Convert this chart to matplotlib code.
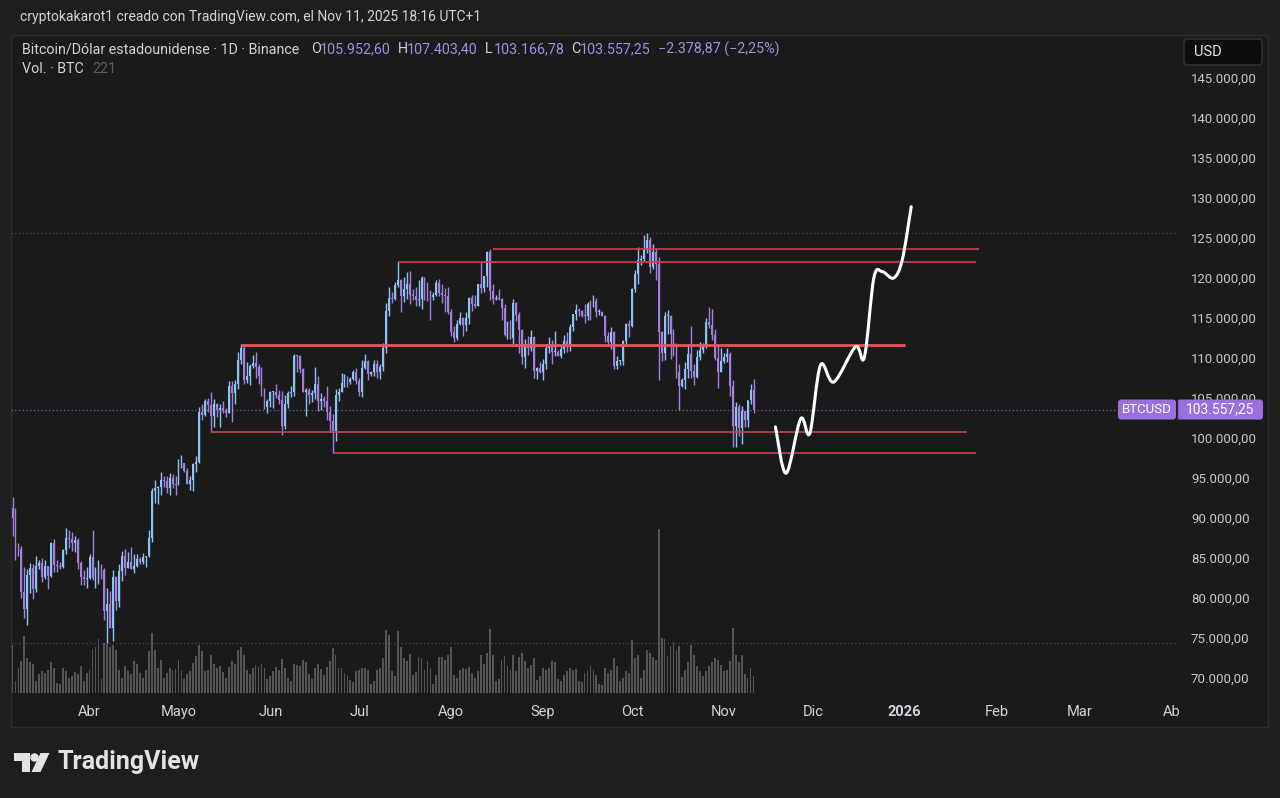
import datetime as dt
import numpy as np
import matplotlib
matplotlib.use("Agg")
import matplotlib.pyplot as plt
import matplotlib.dates as mdates
from matplotlib.patches import Rectangle, FancyBboxPatch, Circle, Polygon, PathPatch
from matplotlib.path import Path

# ---------------- data (BTC/USD daily, thousands of USD) ----------------
start_date = dt.date(2025, 3, 6)
first_open = 91.2

close_mar = [89.96, 86.74, 86.15, 80.73, 78.60, 82.86, 83.72, 81.07, 83.97, 84.34, 82.58, 84.01, 82.72,
             86.85, 84.17, 84.04, 83.83, 86.05, 87.50, 87.42, 86.90, 87.20, 84.35, 82.60, 82.39, 82.55]
high_mar = [92.60, 91.30, 86.90, 86.50, 83.90, 83.60, 84.40, 84.30, 85.30, 84.70, 85.00, 84.80, 84.00,
            87.00, 87.40, 84.80, 84.50, 86.10, 88.80, 88.50, 88.30, 87.80, 87.50, 84.60, 83.50, 83.90]
low_mar = [87.80, 84.70, 85.20, 80.00, 77.50, 76.60, 80.60, 79.90, 80.80, 83.60, 82.00, 82.40, 81.10,
           82.60, 83.20, 83.20, 83.60, 83.80, 85.50, 86.30, 85.90, 85.80, 83.60, 81.60, 81.60, 81.30]

close_apr = [85.16, 82.50, 83.10, 83.84, 83.50, 78.40, 79.20, 76.30, 82.60, 79.60, 83.40, 85.30, 83.70, 84.50, 83.60,
             84.00, 84.90, 84.50, 85.10, 85.20, 87.50, 93.40, 93.70, 93.90, 94.70, 94.60, 93.75, 94.98, 94.28, 94.17]
high_apr = [85.50, 88.50, 83.90, 84.70, 84.20, 83.80, 81.20, 80.90, 83.50, 82.70, 84.30, 85.90, 86.10, 85.80, 86.40,
            85.50, 85.50, 85.10, 85.60, 85.30, 88.50, 93.80, 94.70, 94.00, 95.80, 95.30, 95.30, 95.60, 95.50, 95.20]
low_apr = [82.40, 82.30, 81.20, 81.70, 82.40, 77.20, 74.40, 76.20, 74.60, 78.50, 78.90, 82.10, 82.90, 83.70, 83.60,
           83.10, 83.90, 84.20, 84.30, 83.90, 85.10, 87.00, 91.90, 91.70, 92.90, 93.90, 93.10, 92.90, 93.80, 92.90]

close_may = [96.50, 96.90, 95.90, 94.30, 94.70, 96.80, 97.00, 103.20, 102.90, 104.60, 104.10, 102.80, 104.20, 103.50,
             103.70, 103.50, 103.10, 106.50, 105.60, 106.80, 109.70, 111.20, 107.30, 107.80, 109.00, 109.40, 108.90,
             107.80, 105.60, 103.90, 104.60]
high_may = [97.40, 97.90, 96.90, 96.30, 95.20, 96.90, 97.70, 103.90, 104.30, 104.90, 105.00, 105.80, 104.90, 104.40,
            104.20, 104.60, 103.70, 107.10, 107.10, 107.30, 110.80, 111.70, 111.60, 109.50, 109.30, 110.40, 110.70,
            109.30, 108.90, 106.30, 104.90]
low_may = [94.10, 96.30, 95.70, 94.20, 93.50, 93.40, 95.80, 96.90, 102.30, 102.80, 103.30, 100.75, 101.40, 102.60,
           101.40, 103.10, 102.60, 103.10, 102.00, 104.20, 106.10, 109.30, 106.80, 106.90, 106.60, 108.70, 107.50,
           106.80, 105.30, 103.60, 103.10]

close_jun = [105.70, 105.80, 105.40, 104.70, 101.50, 104.30, 105.60, 105.70, 110.30, 110.20, 108.60, 105.70, 106.00,
             105.40, 105.60, 106.80, 104.60, 104.90, 104.60, 103.30, 102.10, 100.90, 105.40, 105.80, 106.90, 107.30,
             107.00, 107.40, 108.30, 107.10]
high_jun = [105.90, 105.90, 106.80, 106.00, 105.90, 105.40, 105.90, 106.50, 110.50, 110.40, 110.40, 108.80, 106.20,
            106.20, 106.00, 108.90, 107.80, 105.60, 105.30, 106.50, 104.00, 103.00, 106.10, 106.30, 108.10, 108.00,
            107.80, 107.60, 108.50, 108.80]
low_jun = [103.90, 103.70, 105.00, 104.20, 100.40, 101.10, 103.80, 105.10, 105.30, 108.30, 108.10, 105.70, 102.70,
           104.30, 104.50, 104.90, 103.40, 103.50, 103.90, 102.30, 100.80, 98.10, 99.60, 104.60, 105.70, 106.40,
           106.40, 106.80, 107.20, 106.80]

close_jul = [105.70, 108.80, 109.60, 108.00, 108.20, 109.20, 108.30, 108.90, 111.30, 115.90, 117.50, 117.40, 119.10,
             119.80, 117.70, 118.60, 119.20, 117.90, 117.80, 117.30, 117.40, 120.00, 118.80, 118.40, 117.60, 117.90,
             119.40, 118.10, 117.90, 117.80, 115.80]
high_jul = [107.50, 109.80, 110.50, 109.80, 108.40, 109.70, 109.70, 109.20, 111.90, 116.90, 118.90, 118.20, 119.50,
            122.00, 119.90, 120.10, 120.80, 120.90, 118.60, 118.90, 119.70, 120.20, 120.10, 119.50, 118.50, 118.30,
            119.80, 119.90, 119.30, 118.80, 118.90]
low_jul = [105.30, 105.10, 108.60, 107.30, 107.80, 107.80, 107.50, 107.40, 108.40, 110.60, 115.20, 116.90, 117.30,
           118.90, 115.70, 117.00, 117.40, 116.80, 117.30, 116.50, 116.50, 116.10, 117.30, 117.10, 114.70, 117.20,
           117.80, 117.80, 116.90, 115.80, 115.50]

close_aug = [113.30, 112.50, 114.20, 115.00, 114.10, 115.00, 117.50, 116.70, 116.50, 119.30, 118.70, 120.20, 123.30,
             118.40, 117.40, 117.50, 117.40, 116.20, 112.90, 114.30, 112.50, 116.90, 115.40, 113.50, 110.10, 111.80,
             111.30, 112.60, 108.40, 108.80, 108.20]
high_aug = [116.10, 114.00, 114.80, 115.70, 115.10, 115.70, 117.60, 117.90, 117.90, 119.30, 122.00, 120.30, 123.40,
            123.60, 119.20, 117.90, 118.60, 117.50, 116.80, 114.60, 114.80, 117.40, 117.00, 115.70, 113.60, 112.40,
            112.70, 113.50, 112.70, 108.90, 109.50]
low_aug = [112.70, 112.00, 112.20, 114.10, 112.70, 113.40, 114.30, 115.90, 116.30, 116.50, 118.10, 118.20, 118.90,
           117.20, 116.80, 117.20, 117.20, 114.70, 112.70, 112.40, 112.40, 111.70, 114.60, 110.60, 109.30, 108.70,
           110.40, 110.90, 107.50, 107.40, 108.10]

close_sep = [109.20, 111.20, 111.70, 110.70, 110.70, 110.20, 111.10, 112.10, 111.50, 113.90, 115.50, 116.00, 115.90,
             115.30, 115.20, 116.80, 116.50, 117.10, 115.70, 115.70, 115.20, 112.70, 112.00, 113.30, 109.00, 109.60,
             109.60, 112.10, 114.30, 114.00]
high_sep = [109.90, 111.80, 112.60, 112.20, 113.40, 111.00, 111.60, 112.90, 113.20, 114.30, 115.50, 116.70, 116.30,
            116.00, 116.80, 117.00, 117.30, 117.90, 117.50, 116.10, 115.90, 115.40, 113.30, 113.90, 113.40, 110.30,
            109.80, 112.30, 114.40, 114.80]
low_sep = [107.30, 108.60, 110.60, 109.30, 110.20, 110.20, 110.00, 110.60, 110.80, 110.90, 113.40, 114.80, 115.20,
           115.10, 114.40, 114.70, 114.70, 116.40, 115.10, 115.40, 115.20, 112.00, 111.50, 111.10, 108.60, 108.60,
           109.10, 109.10, 111.60, 112.60]

close_oct = [118.60, 120.50, 122.20, 122.40, 123.50, 124.70, 121.40, 123.30, 121.70, 113.20, 110.60, 115.20, 115.30,
             113.00, 110.70, 108.20, 106.50, 107.20, 108.60, 110.50, 108.40, 107.60, 110.10, 111.00, 111.60, 114.50,
             114.10, 112.90, 110.00, 108.30, 109.60]
high_oct = [118.70, 121.00, 123.90, 122.90, 125.40, 125.60, 125.10, 124.20, 123.80, 122.60, 113.40, 115.80, 116.00,
            115.40, 113.60, 111.90, 109.20, 107.50, 109.50, 111.70, 114.00, 109.20, 111.00, 112.00, 111.90, 115.00,
            116.40, 116.10, 113.60, 111.60, 111.20]
low_oct = [113.90, 118.30, 119.30, 121.60, 122.10, 123.10, 120.60, 121.10, 119.70, 107.20, 109.60, 109.70, 113.00,
           109.90, 110.20, 107.50, 103.50, 106.40, 106.10, 107.50, 107.50, 106.60, 107.50, 109.70, 110.60, 111.30,
           113.80, 112.20, 109.70, 106.30, 108.20]

close_nov = [110.10, 110.50, 106.50, 101.50, 103.90, 101.30, 103.40, 102.30, 104.70, 105.9526, 103.55725]
high_nov = [110.60, 111.30, 110.80, 107.30, 104.50, 104.20, 104.00, 103.40, 104.80, 106.70, 107.4034]
low_nov = [109.40, 109.50, 105.30, 98.90, 98.90, 100.30, 99.30, 101.40, 101.40, 104.30, 103.16678]

# volume (BTC)
vol_mar = [630, 150, 330, 420, 740, 460, 400, 380, 150, 250, 280, 260, 300, 400, 320, 130, 120, 330, 290, 190,
           220, 270, 250, 350, 160, 260]
vol_apr = [300, 570, 600, 700, 180, 650, 640, 600, 620, 560, 300, 200, 350, 290, 250, 410, 380, 260, 200, 300,
           540, 780, 560, 330, 430, 200, 260, 330, 300, 310]
vol_may = [430, 290, 180, 250, 290, 390, 480, 620, 550, 280, 300, 500, 380, 320, 350, 270, 200, 340, 420, 380,
           560, 600, 500, 300, 250, 330, 360, 340, 380, 330, 180]
vol_jun = [220, 280, 340, 300, 440, 330, 200, 150, 380, 370, 350, 430, 400, 250, 180, 330, 380, 310, 240, 340,
           420, 580, 500, 330, 320, 260, 240, 170, 140, 280]
vol_jul = [300, 330, 330, 300, 120, 150, 300, 330, 460, 820, 760, 280, 220, 800, 600, 460, 420, 510, 230, 270,
           470, 450, 300, 420, 330, 120, 230, 470, 470, 430, 500]
vol_aug = [600, 240, 200, 300, 320, 310, 340, 260, 200, 290, 500, 380, 520, 830, 490, 150, 180, 430, 480, 350,
           300, 500, 280, 470, 520, 420, 330, 360, 460, 170, 220]
vol_sep = [320, 300, 330, 410, 400, 180, 150, 240, 290, 320, 300, 310, 150, 140, 260, 280, 350, 300, 240, 120,
           110, 330, 260, 300, 460, 350, 160, 200, 290, 260]
vol_oct = [690, 450, 500, 190, 300, 560, 520, 470, 430, 2130, 720, 700, 480, 610, 660, 560, 610, 210, 300, 400,
           620, 500, 350, 280, 220, 290, 350, 400, 460, 430, 360]
vol_nov = [280, 300, 420, 850, 500, 400, 490, 250, 200, 320, 221]

# drawn annotations: horizontal levels (thousands USD) with start/end day offsets from start_date
level_prices = [111.6, 122.0, 123.6, 100.75, 98.1]
level_start = [77, 130, 162, 67, 108]
level_end = [301, 325, 326, 322, 325]
level_width = [2.0, 1.2, 1.2, 1.2, 1.2]

# hand-drawn projection path (day offset, thousands USD)
path_days = [257.4, 261.0, 265.9, 269.0, 272.6, 277.1, 284.4, 287.4, 290.6, 293.4, 297.3, 300.2, 303.2]
path_prices = [101.4, 95.6, 102.4, 100.6, 109.1, 107.0, 111.4, 110.1, 120.0, 120.8, 120.0, 122.3, 128.9]

month_ticks = [dt.date(2025, 4, 1), dt.date(2025, 5, 1), dt.date(2025, 6, 1), dt.date(2025, 7, 1),
               dt.date(2025, 8, 1), dt.date(2025, 9, 1), dt.date(2025, 10, 1), dt.date(2025, 11, 1),
               dt.date(2025, 12, 1), dt.date(2026, 1, 1), dt.date(2026, 2, 1), dt.date(2026, 3, 1),
               dt.date(2026, 4, 1)]
month_labels = ["Abr", "Mayo", "Jun", "Jul", "Ago", "Sep", "Oct", "Nov", "Dic", "2026", "Feb", "Mar", "Ab"]
price_ticks = [70, 75, 80, 85, 90, 95, 100, 105, 110, 115, 120, 125, 130, 135, 140, 145]

# ---------------- assemble ----------------
close = np.array(close_mar + close_apr + close_may + close_jun + close_jul + close_aug + close_sep + close_oct + close_nov) * 1000
high = np.array(high_mar + high_apr + high_may + high_jun + high_jul + high_aug + high_sep + high_oct + high_nov) * 1000
low = np.array(low_mar + low_apr + low_may + low_jun + low_jul + low_aug + low_sep + low_oct + low_nov) * 1000
volume = np.array(vol_mar + vol_apr + vol_may + vol_jun + vol_jul + vol_aug + vol_sep + vol_oct + vol_nov, dtype=float)
opens = np.concatenate([[first_open * 1000], close[:-1]])
n = len(close)
base = mdates.date2num(start_date)
x = base + np.arange(n)

W, H = 1280, 798
BG_OUT = "#1e1e1e"
BG_PANE = "#1a1a1a"
UP = "#8fc3f6"
DOWN = "#a47fdf"
TXT = "#d1d4dc"
PURPLE = "#9a6fe0"

fig = plt.figure(figsize=(W / 100, H / 100), dpi=100, facecolor=BG_OUT)

# overlay axes in pixel coords (for frame/background)
bg = fig.add_axes([0, 0, 1, 1], zorder=0)
bg.set_xlim(0, W); bg.set_ylim(H, 0); bg.axis("off")
bg.add_patch(Rectangle((11, 35), 1257, 692, facecolor=BG_PANE, edgecolor="#2c2c2c", lw=1.0))

# pixel geometry
L, R, T, B = 11, 1177, 35, 698
px_per_day = 2.964
x0_px = 12.5
xlim = (base + (L - x0_px) / px_per_day, base + (R - x0_px) / px_per_day)
# price scale: 145000 at y=78, 8 px per 1000
def y_to_price(y):
    return 145000 - (y - 78) * 125.0
ylim = (y_to_price(B), y_to_price(T))

def fx(px):
    return px / W
def fy(py):
    return 1 - py / H

# volume axes (baseline at y=693, 13 BTC per px)
vb = 693
axv = fig.add_axes([fx(L), fy(vb), fx(R) - fx(L), fy(T) - fy(vb)], zorder=1)
axv.set_xlim(*xlim)
axv.set_ylim(0, (vb - T) * 13.0)
axv.patch.set_alpha(0)
axv.axis("off")
axv.bar(x, volume, width=0.62, color="#555555", linewidth=0)

# main price axes
ax = fig.add_axes([fx(L), fy(B), fx(R) - fx(L), fy(T) - fy(B)], zorder=2)
ax.set_xlim(*xlim)
ax.set_ylim(*ylim)
ax.patch.set_alpha(0)
for s in ax.spines.values():
    s.set_visible(False)

# high / low / last-price dotted lines
ax.axhline(high.max(), color="#4a4a4a", lw=0.9, ls=(0, (1, 2)))
ax.axhline(low.min(), color="#4a4a4a", lw=0.9, ls=(0, (1, 2)))
ax.axhline(close[-1], color="#7a5fb0", lw=0.9, ls=(0, (1, 2)))

# candles
cols = np.where(close >= opens, UP, DOWN)
ax.vlines(x, low, high, colors=cols, lw=1.0, zorder=3)
body_bottom = np.minimum(opens, close)
body_h = np.maximum(np.abs(close - opens), 120)
ax.bar(x, body_h, bottom=body_bottom, width=0.62, color=cols, linewidth=0, zorder=4)

# red levels
for p, s0, s1, lw in zip(level_prices, level_start, level_end, level_width):
    col = "#f0505c" if lw > 1.5 else "#c9434f"
    ax.hlines(p * 1000, base + s0, base + s1, colors=col, lw=lw, zorder=5)

# hand-drawn projection: Catmull-Rom through the drawn points rendered as Bezier curves
pts = np.column_stack([base + np.array(path_days), np.array(path_prices) * 1000])
verts = [tuple(pts[0])]
codes = [Path.MOVETO]
for i in range(len(pts) - 1):
    p0 = pts[i - 1] if i > 0 else pts[i]
    p1 = pts[i]
    p2 = pts[i + 1]
    p3 = pts[i + 2] if i + 2 < len(pts) else pts[i + 1]
    c1 = p1 + (p2 - p0) / 6.0
    c2 = p2 - (p3 - p1) / 6.0
    verts += [tuple(c1), tuple(c2), tuple(p2)]
    codes += [Path.CURVE4] * 3
ax.add_patch(PathPatch(Path(verts, codes), facecolor="none", edgecolor="white", lw=2.2,
                       capstyle="round", joinstyle="round", zorder=6))

# axis ticks
ax.set_xticks([mdates.date2num(d) for d in month_ticks])
ax.set_xticklabels(month_labels)
ax.tick_params(axis="x", length=0, pad=5, colors=TXT)
for lab in ax.get_xticklabels():
    lab.set_fontfamily(["Roboto", "DejaVu Sans"])
    lab.set_fontsize(10.5)
    if lab.get_text() == "2026":
        lab.set_fontweight("bold")
ax.yaxis.tick_right()
ax.set_yticks([p * 1000 for p in price_ticks])
ax.set_yticklabels([f"{p}.000,00" for p in price_ticks])
ax.tick_params(axis="y", length=0, pad=10, colors="#c8c8c8")
for lab in ax.get_yticklabels():
    lab.set_fontfamily(["Roboto", "DejaVu Sans"])
    lab.set_fontsize(9.5)

# ---------------- overlay texts & labels ----------------
ov = fig.add_axes([0, 0, 1, 1], zorder=10)
ov.set_xlim(0, W); ov.set_ylim(H, 0); ov.axis("off")
ov.patch.set_alpha(0)

FONT = ["Roboto", "DejaVu Sans"]
ov.text(20, 17, "cryptokakarot1 creado con TradingView.com, el Nov 11, 2025 18:16 UTC+1", color=TXT,
        fontsize=10, family=FONT, va="center", ha="left")

ov.text(22, 49, "Bitcoin/Dólar estadounidense · 1D · Binance", color=TXT, fontsize=10.3, family=FONT,
        va="center", ha="left")
ohlc_items = [(311, "O", "105.952,60"), (398, "H", "107.403,40"), (485, "L", "103.166,78"), (571, "C", "103.557,25")]
VALCOL = "#a98be6"
for xp, k, v in ohlc_items:
    ov.text(xp, 49, k, color=TXT, fontsize=10.3, family=FONT, va="center", ha="left")
    ov.text(xp + 9, 49, v, color=VALCOL, fontsize=10.3, family=FONT, va="center", ha="left")
ov.text(658, 49, "\u22122.378,87 (\u22122,25%)", color=VALCOL, fontsize=10.3, family=FONT, va="center", ha="left")
ov.text(22, 69, "Vol. · BTC", color=TXT, fontsize=10.3, family=FONT, va="center", ha="left")
ov.text(92, 69, "221", color="#5e5e5e", fontsize=10.3, family=FONT, va="center", ha="left")

# USD box
ov.add_patch(FancyBboxPatch((1184, 39), 78, 26, boxstyle="round,pad=0,rounding_size=4",
                            facecolor="#0e0e0e", edgecolor="#333333", lw=1))
ov.text(1194, 52, "USD", color="#e6e6e6", fontsize=10.5, family=FONT, va="center", ha="left")

# last price labels
yl = 78 + (145000 - close[-1]) / 125.0
ov.add_patch(FancyBboxPatch((1118, yl - 10), 58, 20, boxstyle="round,pad=0,rounding_size=3",
                            facecolor=PURPLE, edgecolor="none"))
ov.text(1147, yl, "BTCUSD", color="white", fontsize=9.5, family=FONT, va="center", ha="center")
ov.add_patch(FancyBboxPatch((1177, yl - 10), 86, 20, boxstyle="round,pad=0,rounding_size=3",
                            facecolor=PURPLE, edgecolor="none"))
ov.plot([1177, 1177], [yl - 10, yl + 10], color="#2a2a2a", lw=1)
ov.text(1220, yl, "103.557,25", color="white", fontsize=10, family=FONT, va="center", ha="center")

# TradingView logo
LOGO = "#e3e3e3"
ov.add_patch(Polygon([(13.5, 753), (29.5, 753), (29.5, 772), (22, 772), (22, 761), (13.5, 761)],
                     closed=True, facecolor=LOGO, edgecolor="none"))
ov.add_patch(Circle((34.5, 757.5), 4.2, facecolor=LOGO, edgecolor="none"))
ov.add_patch(Polygon([(40.5, 753), (49.5, 753), (40.5, 772), (31.5, 772)], closed=True,
                     facecolor=LOGO, edgecolor="none"))
ov.text(58, 762.5, "TradingView", color=LOGO, fontsize=18, fontweight="bold",
        family=FONT, va="center", ha="left")

fig.savefig("out.png", dpi=100, facecolor=BG_OUT)
